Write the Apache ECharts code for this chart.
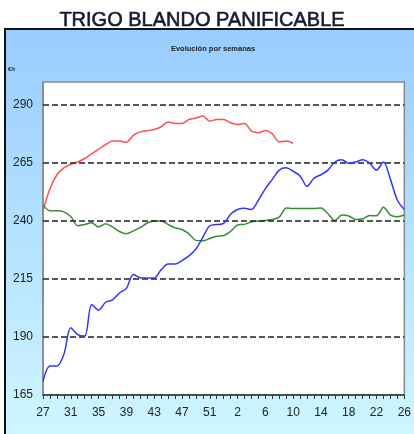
<!DOCTYPE html>
<html>
<head>
<meta charset="utf-8">
<script src="https://cdn.jsdelivr.net/npm/echarts@6/dist/echarts.min.js"></script>
<style>
html,body{margin:0;padding:0;background:#fff;}
#chart{width:414px;height:434px;}
</style>
</head>
<body>
<div id="chart"></div>
<script>
// Weeks: 27..53 then 1..26
const weeks = [];
for (let w = 27; w <= 53; w++) weeks.push(String(w));
for (let w = 1; w <= 26; w++) weeks.push(String(w));

const yTicks = [165, 190, 215, 240, 265, 290];

const redValues = [244.5, 254, 260, 263, 264.5, 265.5, 267, 269, 271, 273,
  274.5, 274.5, 274, 277, 278.5, 279, 279.5, 280.7, 282.8, 282.1,
  282.1, 283.8, 284.5, 285.3, 283.1, 283.8, 283.8, 282.4, 281.7, 282.1,
  278.8, 278.1, 279.1, 277.6, 274.2, 274.5, 273.5];

const greenValues = [247, 244.5, 244.5, 244, 242, 238, 238.5, 239.3, 237.5, 238.9,
  237.5, 235.5, 234.5, 235.8, 237.2, 239.2, 240, 240.1, 238.6, 237.1,
  236.4, 234.5, 231.7, 231.5, 232.5, 233.5, 233.8, 235.6, 238.3, 238.6,
  239.7, 240, 240.3, 240.7, 241.7, 245.7, 245.4, 245.4, 245.4, 245.4,
  245.7, 243.2, 240.3, 242.6, 242.2, 240.7, 241, 242.4, 242.3, 246,
  242.6, 241.9, 242.6];

const blueValues = [171, 177.5, 177.5, 182.5, 194, 191, 190.4, 204, 201.6, 205,
  206, 209, 211, 217, 215.6, 215.5, 215.5, 219, 221.5, 221.5,
  223, 225, 228, 233, 238, 238.5, 239, 243, 245, 245.5,
  245, 249, 254, 258, 262, 263, 261.5, 259.5, 255, 258.5,
  260, 262, 265.5, 266.5, 265, 265.5, 266.5, 265, 262, 265.5,
  258, 249, 245];

const gridValues = [190, 215, 240, 265, 290];

const chart = echarts.init(document.getElementById('chart'), null, {renderer: 'canvas'});

const option = {
  animation: false,
  graphic: [{
    type: 'rect',
    z: -100,
    zlevel: 0,
    silent: true,
    shape: {x: 5, y: 29, width: 430, height: 430},
    style: {
      fill: new echarts.graphic.LinearGradient(0, 0, 0, 1, [
        {offset: 0, color: '#99ccff'},
        {offset: 1, color: '#d2f9ff'}
      ]),
      stroke: '#111',
      lineWidth: 2
    }
  }],
  title: [{
    text: 'TRIGO BLANDO PANIFICABLE',
    left: 202,
    top: 10,
    padding: 0,
    textAlign: 'center',
    textStyle: {fontFamily: 'Liberation Sans, Arial', fontSize: 20, fontWeight: 'normal', color: '#1a1a33',
      textBorderColor: '#1a1a33', textBorderWidth: 0.6}
  }, {
    text: 'Evolución por semanas',
    left: 213,
    top: 45,
    padding: 0,
    textAlign: 'center',
    textStyle: {fontFamily: 'Liberation Sans, Arial', fontSize: 7.5, fontWeight: 'bold', color: '#222'}
  }, {
    text: '€/t',
    left: 8,
    top: 66,
    padding: 0,
    textStyle: {fontFamily: 'Liberation Sans, Arial', fontSize: 6, fontWeight: 'bold', color: '#222'}
  }],
  grid: {
    left: 43, top: 82, right: 7, bottom: 39,
    show: true,
    backgroundColor: '#ffffff',
    borderColor: '#8a8a8a',
    borderWidth: 1.5
  },
  xAxis: {
    type: 'category',
    data: weeks,
    boundaryGap: false,
    axisLine: {lineStyle: {color: '#333', width: 1.5}},
    axisTick: {show: true, interval: 0, length: 4, lineStyle: {color: '#333', width: 1}},
    axisLabel: {interval: 3, margin: 12, fontFamily: 'Liberation Sans, Arial', fontSize: 12, color: '#222'},
    splitLine: {show: false}
  },
  yAxis: {
    type: 'value',
    min: 165,
    max: 300,
    axisLine: {show: true, lineStyle: {color: '#8a8a8a', width: 1.5}},
    axisTick: {show: false},
    axisLabel: {customValues: yTicks, margin: 10, fontFamily: 'Liberation Sans, Arial', fontSize: 12, color: '#222'},
    splitLine: {show: false}
  },
  series: [{
    name: 'Rojo',
    type: 'line',
    data: redValues,
    smooth: 0.3,
    symbol: 'none',
    lineStyle: {color: '#ff5050', width: 1.5},
    z: 3,
    markLine: {
      silent: true,
      symbol: 'none',
      label: {show: false},
      lineStyle: {color: '#222', width: 1.5, type: [6, 3]},
      data: gridValues.map(v => ({yAxis: v}))
    }
  }, {
    name: 'Verde',
    type: 'line',
    data: greenValues,
    smooth: 0.3,
    symbol: 'none',
    lineStyle: {color: '#3a8a3a', width: 1.5},
    z: 4
  }, {
    name: 'Azul',
    type: 'line',
    data: blueValues,
    smooth: 0.3,
    symbol: 'none',
    lineStyle: {color: '#3535ff', width: 1.5},
    z: 5
  }]
};
chart.setOption(option);
</script>
</body>
</html>
